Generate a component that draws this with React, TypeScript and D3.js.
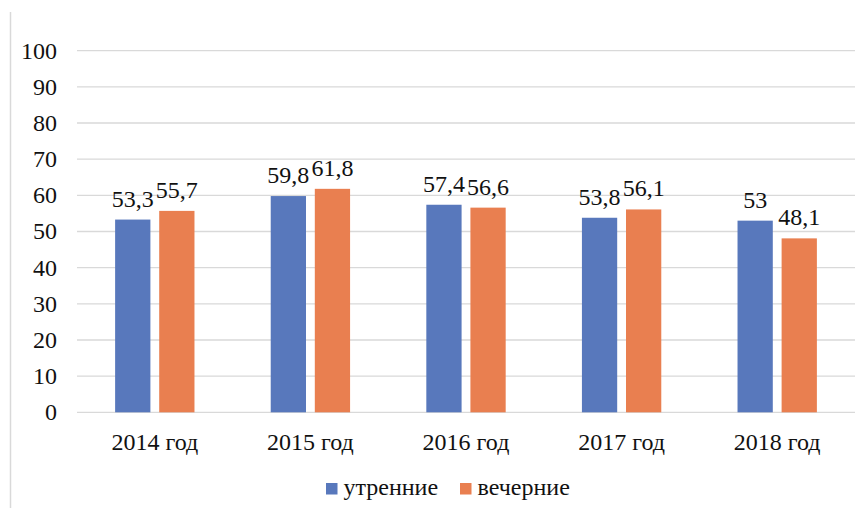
import React, { useRef, useEffect } from 'react';
import * as d3 from 'd3';

const years = ['2014 год', '2015 год', '2016 год', '2017 год', '2018 год'];
const seriesNames = ['утренние', 'вечерние'];
const morning = [53.3, 59.8, 57.4, 53.8, 53];
const evening = [55.7, 61.8, 56.6, 56.1, 48.1];
const yTicks = [0, 10, 20, 30, 40, 50, 60, 70, 80, 90, 100];
const colors = ['#5878BC', '#E97F50'];

const fmt = (v: number) => String(v).replace('.', ',');

export default function App() {
  const ref = useRef<SVGSVGElement>(null);

  useEffect(() => {
    const width = 867;
    const height = 508;
    const margin = { top: 50.7, bottom: 95.7, left: 77, right: 12 };
    const font = 'Liberation Serif';
    const fs = '24px';

    const svg = d3.select(ref.current);
    svg.selectAll('*').remove();

    // left frame line
    svg.append('line')
      .attr('x1', 10.5).attr('x2', 10.5)
      .attr('y1', 12).attr('y2', height)
      .attr('stroke', '#d9d9d9').attr('stroke-width', 1.5);

    const x0 = d3.scaleBand()
      .domain(years)
      .range([margin.left, width - margin.right])
      .paddingInner(0.49)
      .paddingOuter(0.245);

    const x1 = d3.scaleBand()
      .domain(seriesNames)
      .range([0, x0.bandwidth()])
      .paddingInner(0.2);

    const y = d3.scaleLinear()
      .domain([0, 100])
      .range([height - margin.bottom, margin.top]);

    // grid
    svg.append('g')
      .selectAll('line')
      .data(yTicks)
      .join('line')
        .attr('x1', margin.left)
        .attr('x2', width - margin.right)
        .attr('y1', d => y(d))
        .attr('y2', d => y(d))
        .attr('stroke', '#d9d9d9')
        .attr('stroke-width', 1.3);

    // y labels
    svg.append('g')
      .selectAll('text')
      .data(yTicks)
      .join('text')
        .attr('x', 57)
        .attr('y', d => y(d))
        .attr('dy', '0.33em')
        .attr('text-anchor', 'end')
        .attr('font-family', font)
        .attr('font-size', fs)
        .attr('fill', '#111')
        .text(d => d);

    const all = [morning, evening];
    all.forEach((vals, s) => {
      const g = svg.append('g');
      g.selectAll('rect')
        .data(vals)
        .join('rect')
          .attr('x', (d, i) => x0(years[i])! + x1(seriesNames[s])!)
          .attr('y', d => y(d))
          .attr('width', x1.bandwidth())
          .attr('height', d => y(0) - y(d))
          .attr('fill', colors[s]);
      g.selectAll('text')
        .data(vals)
        .join('text')
          .attr('x', (d, i) => x0(years[i])! + x1(seriesNames[s])! + x1.bandwidth() / 2)
          .attr('y', d => y(d) - 13)
          .attr('text-anchor', 'middle')
          .attr('font-family', font)
          .attr('font-size', fs)
          .attr('fill', '#111')
          .text(d => fmt(d));
    });

    // x labels
    svg.append('g')
      .selectAll('text')
      .data(years)
      .join('text')
        .attr('x', d => x0(d)! + x0.bandwidth() / 2)
        .attr('y', 450)
        .attr('text-anchor', 'middle')
        .attr('font-family', font)
        .attr('font-size', fs)
        .attr('fill', '#111')
        .text(d => d);

    // legend
    const legendX = [326, 460];
    const lg = svg.append('g');
    seriesNames.forEach((name, i) => {
      lg.append('rect')
        .attr('x', legendX[i])
        .attr('y', 483)
        .attr('width', 11.5)
        .attr('height', 11.5)
        .attr('fill', colors[i]);
      lg.append('text')
        .attr('x', legendX[i] + 17.5)
        .attr('y', 495)
        .attr('font-family', font)
        .attr('font-size', fs)
        .attr('fill', '#111')
        .text(name);
    });
  }, []);

  return (
    <svg
      ref={ref}
      width={867}
      height={508}
      style={{ position: 'absolute', left: 0, top: 0, background: '#fff' }}
    />
  );
}
